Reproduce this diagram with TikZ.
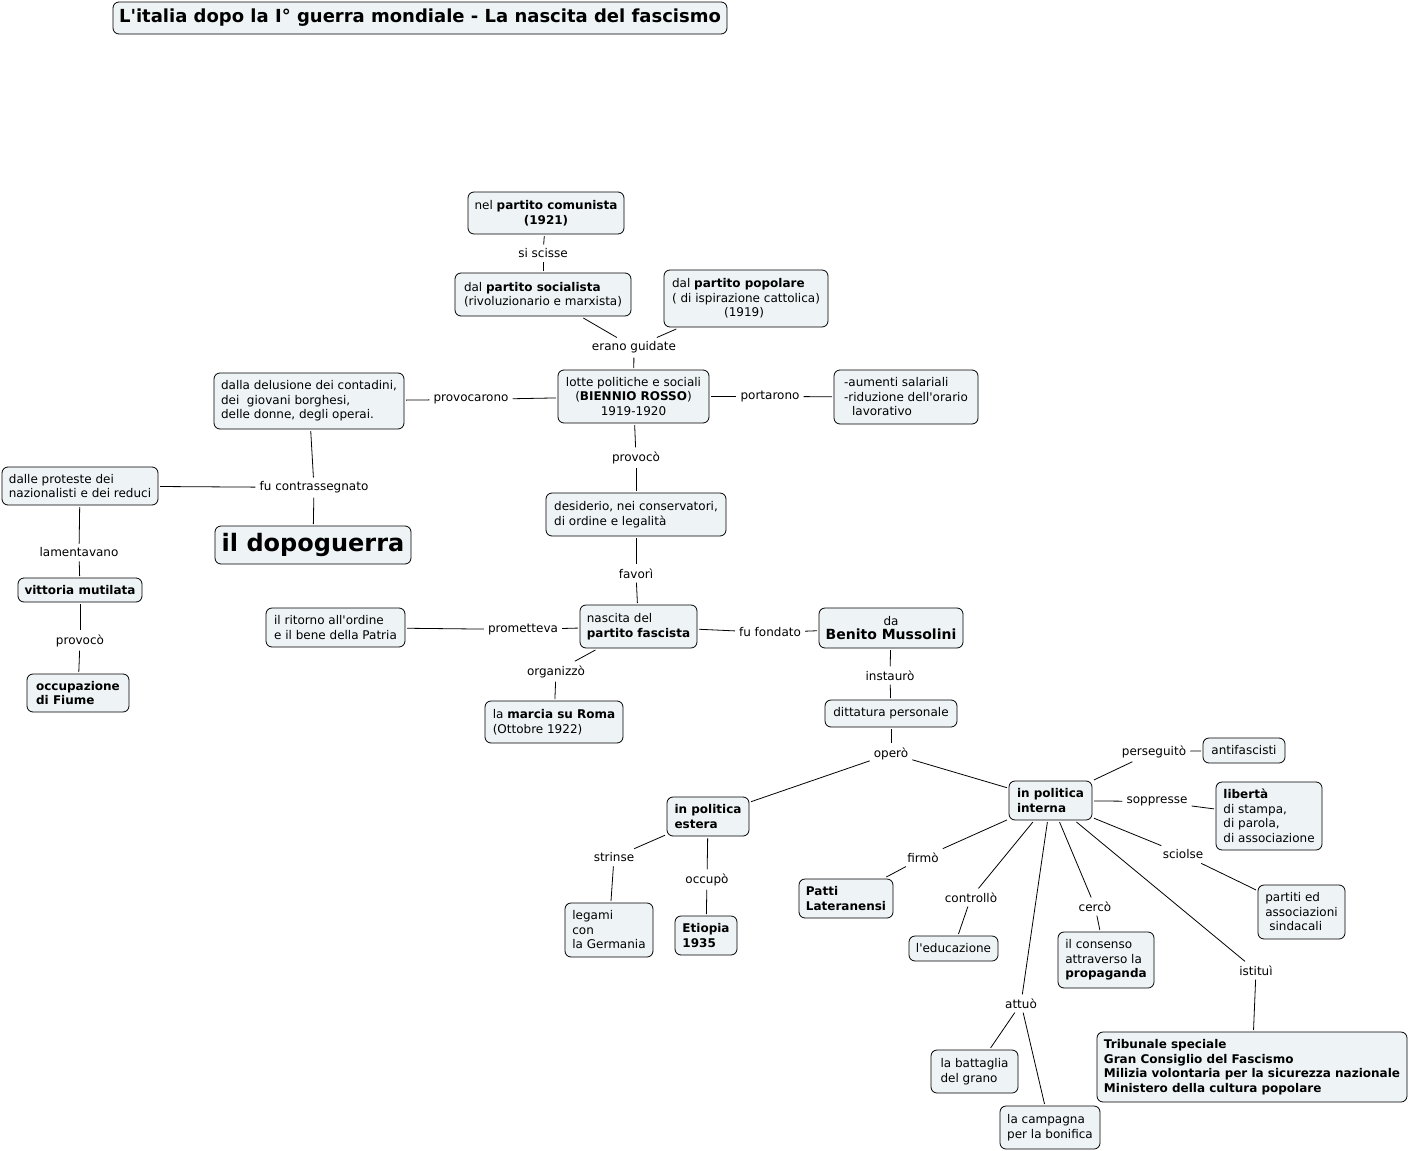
\documentclass[tikz,border=0pt]{standalone}
\usepackage{fontspec}
\setmainfont{DejaVu Sans}
\newcommand{\ap}{\textquotesingle}
\definecolor{cfill}{RGB}{238,244,246}
\tikzset{
  concept/.style={draw=black, line width=0.8pt, rounded corners=6pt, fill=cfill,
    align=left, inner sep=0pt, outer sep=2pt, font=\fontsize{12}{14.5}\selectfont},
  lbl/.style={inner sep=4pt, yshift=-1.5pt, font=\fontsize{12}{14.5}\selectfont},
  conn/.style={line width=0.8pt},
}
\begin{document}
\begin{tikzpicture}[x=1pt,y=-1pt]
\useasboundingbox[fill=white] (0,0) rectangle (1409,1151);

% title
\node[concept, minimum width=614pt, minimum height=32pt, font=\fontsize{18}{20}\selectfont\bfseries] (title) at (420,18) {L\ap italia dopo la I° guerra mondiale - La nascita del fascismo};

% concepts
\node[concept, align=center, minimum width=156pt, minimum height=42pt] (comunista) at (546,213) {nel \textbf{partito comunista}\\\textbf{(1921)}};
\node[concept, minimum width=176pt, minimum height=43pt] (socialista) at (543,294.5) {dal \textbf{partito socialista}\\(rivoluzionario e marxista)};
\node[concept, minimum width=164pt, minimum height=57pt] (popolare) at (746,298.5) {dal \textbf{partito popolare}\\( di ispirazione cattolica)\\\hspace*{52pt}(1919)};
\node[concept, align=center, minimum width=151pt, minimum height=53pt] (lotte) at (633.5,396.5) {lotte politiche e sociali\\(\textbf{BIENNIO ROSSO})\\1919-1920};
\node[concept, minimum width=190pt, minimum height=56pt] (delusione) at (309,401) {dalla delusione dei contadini,\\dei\ \ giovani borghesi,\\delle donne, degli operai.};
\node[concept, minimum width=144pt, minimum height=54pt] (aumenti) at (906,397) {-aumenti salariali\\-riduzione dell\ap orario\\\hspace*{8pt}lavorativo};
\node[concept, minimum width=180pt, minimum height=43pt] (desiderio) at (636,514.5) {desiderio, nei conservatori,\\di ordine e legalità};
\node[concept, minimum width=117pt, minimum height=43pt] (fascista) at (638.5,626.5) {nascita del\\\textbf{partito fascista}};
\node[concept, minimum width=139pt, minimum height=39pt] (ritorno) at (335.5,627.5) {il ritorno all\ap ordine\\e il bene della Patria};
\node[concept, align=center, minimum width=144pt, minimum height=40pt] (mussolini) at (891,628) {da\\{\fontsize{14}{16}\selectfont\bfseries Benito Mussolini}};
\node[concept, minimum width=138pt, minimum height=42pt] (marcia) at (554,722) {la \textbf{marcia su Roma}\\(Ottobre 1922)};
\node[concept, minimum width=132pt, minimum height=27pt] (dittatura) at (891,713.5) {dittatura personale};
\node[concept, minimum width=82pt, minimum height=39pt, font=\fontsize{12}{14.5}\selectfont\bfseries] (estera) at (708,816.5) {in politica\\estera};
\node[concept, minimum width=83pt, minimum height=39pt, font=\fontsize{12}{14.5}\selectfont\bfseries] (interna) at (1050.5,800.5) {in politica\\interna};
\node[concept, minimum width=88pt, minimum height=54pt] (legami) at (609,930) {legami\\con\\la Germania};
\node[concept, minimum width=62pt, minimum height=39pt, font=\fontsize{12}{14.5}\selectfont\bfseries] (etiopia) at (706,935.5) {Etiopia\\1935};
\node[concept, minimum width=94pt, minimum height=39pt, font=\fontsize{12}{14.5}\selectfont\bfseries] (patti) at (846,898.5) {Patti\\Lateranensi};
\node[concept, minimum width=89pt, minimum height=25pt] (educazione) at (953.5,948.5) {l\ap educazione};
\node[concept, minimum width=96pt, minimum height=56pt] (consenso) at (1106,960) {il consenso\\attraverso la\\\textbf{propaganda}};
\node[concept, minimum width=87pt, minimum height=43pt] (battaglia) at (974.5,1071.5) {la battaglia\\del grano};
\node[concept, minimum width=100pt, minimum height=43pt] (campagna) at (1050,1127.5) {la campagna\\per la bonifica};
\node[concept, minimum width=310pt, minimum height=70pt, font=\fontsize{12}{14.5}\selectfont\bfseries] (tribunale) at (1252,1067) {Tribunale speciale\\Gran Consiglio del Fascismo\\Milizia volontaria per la sicurezza nazionale\\Ministero della cultura popolare};
\node[concept, minimum width=82pt, minimum height=25pt] (antifascisti) at (1244,750.5) {antifascisti};
\node[concept, minimum width=106pt, minimum height=68pt] (liberta) at (1269,816) {\textbf{libertà}\\di stampa,\\di parola,\\di associazione};
\node[concept, minimum width=87pt, minimum height=54pt] (partiti) at (1301.5,912) {partiti ed\\associazioni\\\hspace*{4pt}sindacali};
\node[concept, minimum width=196pt, minimum height=38pt, font=\fontsize{24}{28}\selectfont\bfseries] (dopoguerra) at (313,545) {il dopoguerra};
\node[concept, minimum width=156pt, minimum height=38pt] (proteste) at (80,486) {dalle proteste dei\\nazionalisti e dei reduci};
\node[concept, minimum width=124pt, minimum height=24pt, font=\fontsize{12}{14.5}\selectfont\bfseries] (vittoria) at (80,590) {vittoria mutilata};
\node[concept, minimum width=102pt, minimum height=38pt, font=\fontsize{12}{14.5}\selectfont\bfseries] (fiume) at (78,693) {occupazione\\di Fiume};

% linking phrases
\node[lbl] (lsiscisse) at (543,252) {si scisse};
\node[lbl] (lerano) at (634,346) {erano guidate};
\node[lbl] (lprovocarono) at (471,398) {provocarono};
\node[lbl] (lportarono) at (770,395) {portarono};
\node[lbl] (lprovocoa) at (636,456) {provocò};
\node[lbl] (lfavori) at (636,572) {favorì};
\node[lbl] (lprometteva) at (523,628) {prometteva};
\node[lbl] (lfondato) at (770,631) {fu fondato};
\node[lbl] (lorganizzo) at (556,670) {organizzò};
\node[lbl] (linstauro) at (890,674) {instaurò};
\node[lbl] (lopero) at (891,752) {operò};
\node[lbl] (lstrinse) at (614,856) {strinse};
\node[lbl] (loccupo) at (707,878) {occupò};
\node[lbl] (lfirmo) at (923,856) {firmò};
\node[lbl] (lcontrollo) at (971,896) {controllò};
\node[lbl] (lcerco) at (1095,905) {cercò};
\node[lbl] (lattuo) at (1021,1002) {attuò};
\node[lbl] (listitui) at (1256,969) {istituì};
\node[lbl] (lperseguito) at (1154,750) {perseguitò};
\node[lbl] (lsoppresse) at (1157,800) {soppresse};
\node[lbl] (lsciolse) at (1183,853) {sciolse};
\node[lbl] (lcontrass) at (314,486) {fu contrassegnato};
\node[lbl] (llamentavano) at (79,551) {lamentavano};
\node[lbl] (lprovocob) at (80,639) {provocò};

% connectors
\draw[conn] (socialista) -- (lsiscisse);
\draw[conn] (lsiscisse) -- (comunista);
\draw[conn] (socialista) -- (lerano);
\draw[conn] (popolare) -- (lerano);
\draw[conn] (lerano) -- (lotte);
\draw[conn] (delusione) -- (lprovocarono);
\draw[conn] (lprovocarono) -- (lotte);
\draw[conn] (lotte) -- (lportarono);
\draw[conn] (lportarono) -- (aumenti);
\draw[conn] (lotte) -- (lprovocoa);
\draw[conn] (lprovocoa) -- (desiderio);
\draw[conn] (desiderio) -- (lfavori);
\draw[conn] (lfavori) -- (fascista);
\draw[conn] (fascista) -- (lprometteva);
\draw[conn] (lprometteva) -- (ritorno);
\draw[conn] (fascista) -- (lfondato);
\draw[conn] (lfondato) -- (mussolini);
\draw[conn] (fascista) -- (lorganizzo);
\draw[conn] (lorganizzo) -- (marcia);
\draw[conn] (mussolini) -- (linstauro);
\draw[conn] (linstauro) -- (dittatura);
\draw[conn] (dittatura) -- (lopero);
\draw[conn] (lopero) -- (estera);
\draw[conn] (lopero) -- (interna);
\draw[conn] (estera) -- (lstrinse);
\draw[conn] (lstrinse) -- (legami);
\draw[conn] (estera) -- (loccupo);
\draw[conn] (loccupo) -- (etiopia);
\draw[conn] (interna) -- (lfirmo);
\draw[conn] (lfirmo) -- (patti);
\draw[conn] (interna) -- (lcontrollo);
\draw[conn] (lcontrollo) -- (educazione);
\draw[conn] (interna) -- (lcerco);
\draw[conn] (lcerco) -- (consenso);
\draw[conn] (interna) -- (lattuo);
\draw[conn] (lattuo) -- (battaglia);
\draw[conn] (lattuo) -- (campagna);
\draw[conn] (interna) -- (listitui);
\draw[conn] (listitui) -- (tribunale);
\draw[conn] (interna) -- (lperseguito);
\draw[conn] (lperseguito) -- (antifascisti);
\draw[conn] (interna) -- (lsoppresse);
\draw[conn] (lsoppresse) -- (liberta);
\draw[conn] (interna) -- (lsciolse);
\draw[conn] (lsciolse) -- (partiti);
\draw[conn] (dopoguerra) -- (lcontrass);
\draw[conn] (lcontrass) -- (delusione);
\draw[conn] (lcontrass) -- (proteste);
\draw[conn] (proteste) -- (llamentavano);
\draw[conn] (llamentavano) -- (vittoria);
\draw[conn] (vittoria) -- (lprovocob);
\draw[conn] (lprovocob) -- (fiume);
\end{tikzpicture}
\end{document}
